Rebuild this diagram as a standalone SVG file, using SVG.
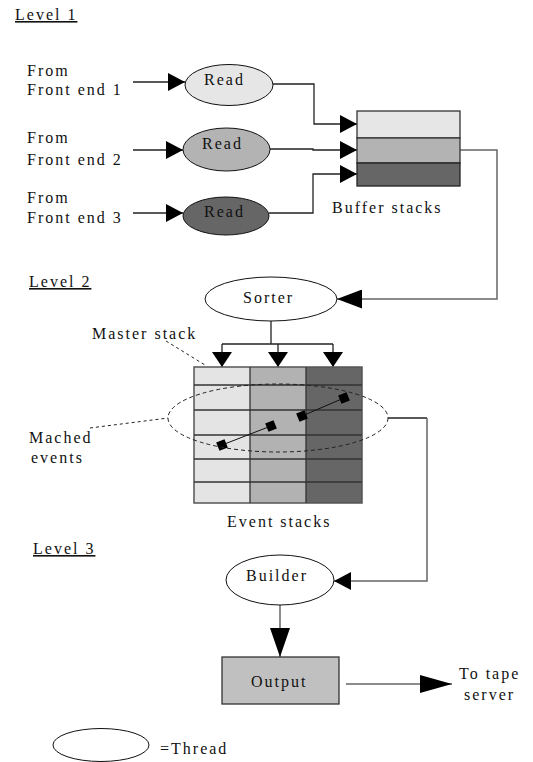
<svg xmlns="http://www.w3.org/2000/svg" width="533" height="762" viewBox="0 0 533 762">
<defs>
<style>
text{font-family:"Liberation Serif","Times New Roman",serif;font-size:16px;letter-spacing:2px;fill:#111}
.lvl{text-decoration:underline}
.conn{fill:none;stroke:#222;stroke-width:1.3}
.gconn{fill:none;stroke:#666;stroke-width:1.5}
.dash{fill:none;stroke:#222;stroke-width:1;stroke-dasharray:3,3}
.ell{stroke:#111;stroke-width:1}
.grid{stroke:#333;stroke-width:1.3}
.dia{fill:#000}
</style>
<marker id="ah" markerUnits="userSpaceOnUse" markerWidth="18" markerHeight="18" refX="17" refY="9" orient="auto"><path d="M0,0 L17,9 L0,18 z" fill="#000"/></marker>
<marker id="ahS" markerUnits="userSpaceOnUse" markerWidth="26" markerHeight="19" refX="25" refY="9.5" orient="auto"><path d="M0,0 L25,9.5 L0,19 z" fill="#000"/></marker>
<marker id="ahD" markerUnits="userSpaceOnUse" markerWidth="16" markerHeight="20" refX="15" refY="10" orient="auto"><path d="M0,0 L15,10 L0,20 z" fill="#000"/></marker>
<marker id="ahL" markerUnits="userSpaceOnUse" markerWidth="30" markerHeight="20" refX="29" refY="10" orient="auto"><path d="M0,0 L29,10 L0,20 z" fill="#000"/></marker>
<marker id="ahT" markerUnits="userSpaceOnUse" markerWidth="33" markerHeight="18" refX="32" refY="9" orient="auto"><path d="M0,0 L32,9 L0,18 z" fill="#000"/></marker>
</defs>

<g id="labels">
<text class="lvl" x="15" y="20">Level 1</text>
<text class="lvl" x="29" y="287">Level 2</text>
<text class="lvl" x="33" y="554">Level 3</text>
<text x="27" y="76">From</text>
<text x="27" y="95">Front end 1</text>
<text x="27" y="143">From</text>
<text x="27" y="165">Front end 2</text>
<text x="27" y="203">From</text>
<text x="27" y="223">Front end 3</text>
<text x="92" y="339">Master stack</text>
<text x="29" y="443">Mached</text>
<text x="31" y="463">events</text>
<text x="459" y="679">To tape</text>
<text x="464" y="700">server</text>
</g>

<g id="connectors">
<line class="conn" x1="133" y1="82" x2="185" y2="82" marker-end="url(#ah)"/>
<line class="conn" x1="133" y1="150" x2="183" y2="150" marker-end="url(#ah)"/>
<line class="conn" x1="133" y1="213" x2="183" y2="213" marker-end="url(#ah)"/>
<path class="conn" d="M273,84 H314 V124 H357" marker-end="url(#ah)"/>
<path class="conn" d="M270,149 H313 V150 H357" marker-end="url(#ah)"/>
<path class="conn" d="M269,213 H313 V174 H357" marker-end="url(#ah)"/>
<path class="gconn" d="M460,150 H497 V299 H337" marker-end="url(#ahS)"/>
<path class="conn" d="M271,321 V344 M222,344 H333"/>
<line class="conn" x1="222" y1="344" x2="222" y2="367" marker-end="url(#ahD)"/>
<line class="conn" x1="278" y1="344" x2="278" y2="367" marker-end="url(#ahD)"/>
<line class="conn" x1="333" y1="344" x2="333" y2="367" marker-end="url(#ahD)"/>
<path class="conn" d="M388,418 H427"/>
<path class="gconn" d="M427,418 V581 H334" marker-end="url(#ah)"/>
<line class="gconn" x1="280" y1="605" x2="280" y2="657" marker-end="url(#ahL)"/>
<line class="gconn" x1="346" y1="684" x2="452" y2="684" marker-end="url(#ahT)"/>
<line class="dash" x1="166" y1="341" x2="205" y2="365"/>
<line class="dash" x1="90" y1="428" x2="168" y2="418"/>
</g>

<g id="read1"><ellipse class="ell" cx="229" cy="85" rx="44" ry="20.5" fill="#e6e6e6"/><text x="204" y="85">Read</text></g>
<g id="read2"><ellipse class="ell" cx="226.5" cy="149.5" rx="43.5" ry="21.5" fill="#b3b3b3"/><text x="202" y="149">Read</text></g>
<g id="read3"><ellipse class="ell" cx="226" cy="216" rx="43" ry="19" fill="#666666"/><text x="204" y="217">Read</text></g>

<g id="buffer">
<rect x="357" y="111" width="103" height="27" fill="#e6e6e6" stroke="#333" stroke-width="1.3"/>
<rect x="357" y="138" width="103" height="25" fill="#b3b3b3" stroke="#333" stroke-width="1.3"/>
<rect x="357" y="163" width="103" height="23" fill="#666666" stroke="#222" stroke-width="1.3"/>
<text x="332" y="213">Buffer stacks</text>
</g>

<g id="sorter"><ellipse class="ell" cx="271" cy="299" rx="66" ry="22" fill="#fff"/><text x="243" y="303">Sorter</text></g>

<g id="events">
<rect x="194" y="367" width="56" height="136" fill="#e4e4e4"/>
<rect x="250" y="367" width="56" height="136" fill="#b2b2b2"/>
<rect x="306" y="367" width="56" height="136" fill="#666666"/>
<rect x="194" y="367" width="168" height="136" fill="none" stroke="#555" stroke-width="1.5"/>
<path class="grid" d="M250,367 V503 M306,367 V503 M194,385 H362 M194,410 H362 M194,435 H362 M194,459 H362 M194,482 H362"/>
<line x1="222" y1="445" x2="271" y2="426" stroke="#111" stroke-width="1"/>
<line x1="302" y1="416" x2="344" y2="398" stroke="#111" stroke-width="1"/>
<rect class="dia" x="-4.5" y="-4.5" width="9" height="9" transform="translate(222,445) rotate(-22)"/>
<rect class="dia" x="-4.5" y="-4.5" width="9" height="9" transform="translate(271,426) rotate(-22)"/>
<rect class="dia" x="-4.5" y="-4.5" width="9" height="9" transform="translate(302,416) rotate(-22)"/>
<rect class="dia" x="-4.5" y="-4.5" width="9" height="9" transform="translate(344,398) rotate(-22)"/>
<ellipse cx="278" cy="418" rx="110" ry="34" fill="none" stroke="#222" stroke-width="1" stroke-dasharray="4,3"/>
<text x="227" y="527">Event stacks</text>
</g>

<g id="builder"><ellipse class="ell" cx="280" cy="580" rx="54" ry="25" fill="#fff"/><text x="246" y="581">Builder</text></g>

<g id="output"><rect x="222" y="657" width="117" height="47" fill="#c0c0c0" stroke="#333" stroke-width="1.3"/><text x="251" y="687">Output</text></g>

<g id="legend"><ellipse class="ell" cx="101" cy="745" rx="48" ry="16.5" fill="#fff"/><text x="160" y="754">=Thread</text></g>
</svg>
